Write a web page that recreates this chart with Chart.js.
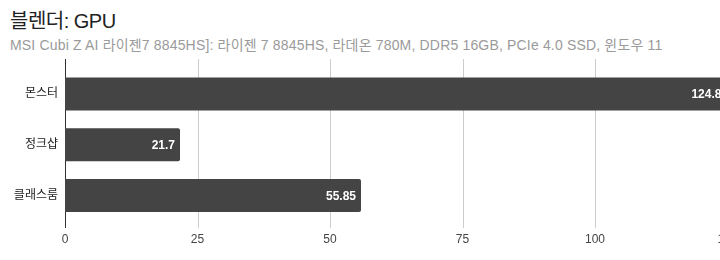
<!DOCTYPE html>
<html>
<head>
<meta charset="utf-8">
<script src="https://cdn.jsdelivr.net/npm/chart.js@4"></script>
<style>
    html, body { margin: 0; padding: 0; background: #fff; overflow: hidden; width: 720px; height: 260px; }
    .title { position: absolute; left: 10px; top: 5px; font: 20px "Liberation Sans", Arial, "Noto Sans CJK KR", sans-serif; color: #222; white-space: nowrap; letter-spacing: -0.5px; }
    .subtitle { position: absolute; left: 10px; top: 34px; font: 14px "Liberation Sans", Arial, "Noto Sans CJK KR", sans-serif; color: #9a9a9a; white-space: nowrap; letter-spacing: 0.17px; }
    #wrap { position: absolute; left: 0; top: 0; width: 780px; height: 260px; }
</style>
</head>
<body>
    <div class="title">블렌더: GPU</div>
    <div class="subtitle">MSI Cubi Z AI 라이젠7 8845HS]: 라이젠 7 8845HS, 라데온 780M, DDR5 16GB, PCIe 4.0 SSD, 윈도우 11</div>
    <div id="wrap"><canvas id="chart"></canvas></div>
<script>
        const categories = ['몬스터', '정크샵', '클래스룸'];
        const scores = [124.8, 21.7, 55.85];
        const xTicks = [0, 25, 50, 75, 100, 125];

        const FONT = '"Liberation Sans", Arial, "Noto Sans CJK KR", sans-serif';

        // vertical grid lines run a bit past the bar area, like the original
        const gridPlugin = {
            id: 'gridLines',
            beforeDatasetsDraw(chart) {
                const ctx = chart.ctx;
                const x = chart.scales.x;
                ctx.save();
                xTicks.forEach(v => {
                    const px = Math.round(x.getPixelForValue(v)) + 0.5;
                    ctx.strokeStyle = v === 0 ? '#333' : '#cccccc';
                    ctx.lineWidth = 1;
                    ctx.beginPath();
                    ctx.moveTo(px, 59);
                    ctx.lineTo(px, 228);
                    ctx.stroke();
                });
                ctx.restore();
            }
        };

        const valueLabels = {
            id: 'valueLabels',
            afterDatasetsDraw(chart) {
                const ctx = chart.ctx;
                const meta = chart.getDatasetMeta(0);
                ctx.save();
                ctx.font = 'bold 12px ' + FONT;
                ctx.fillStyle = '#fff';
                ctx.textAlign = 'right';
                ctx.textBaseline = 'middle';
                meta.data.forEach((bar, i) => {
                    ctx.fillText(String(scores[i]), bar.x - 5, bar.y + 1);
                });
                ctx.restore();
            }
        };

        new Chart(document.getElementById('chart'), {
            type: 'bar',
            data: {
                labels: categories,
                datasets: [{
                    data: scores,
                    backgroundColor: '#444444',
                    borderRadius: 2,
                    borderSkipped: 'start',
                    categoryPercentage: 1,
                    barPercentage: 0.65
                }]
            },
            options: {
                indexAxis: 'y',
                responsive: true,
                maintainAspectRatio: false,
                animation: false,
                layout: { padding: { left: 0, right: 52.5, top: 68.6, bottom: 0 } },
                plugins: { legend: { display: false }, tooltip: { enabled: false } },
                scales: {
                    x: {
                        min: 0,
                        max: 125,
                        afterBuildTicks: s => { s.ticks = xTicks.map(v => ({ value: v })); },
                        afterFit: s => { s.height = 39.1; },
                        grid: { display: false, drawTicks: false },
                        border: { display: false },
                        ticks: { color: '#444', padding: 12, font: { size: 12, family: FONT }, maxRotation: 0 }
                    },
                    y: {
                        afterFit: s => { s.width = 65; },
                        grid: { display: false, drawTicks: false },
                        border: { display: false },
                        ticks: { color: '#222', padding: 7, font: { size: 12, family: FONT } }
                    }
                }
            },
            plugins: [gridPlugin, valueLabels]
        });
</script>
</body>
</html>
